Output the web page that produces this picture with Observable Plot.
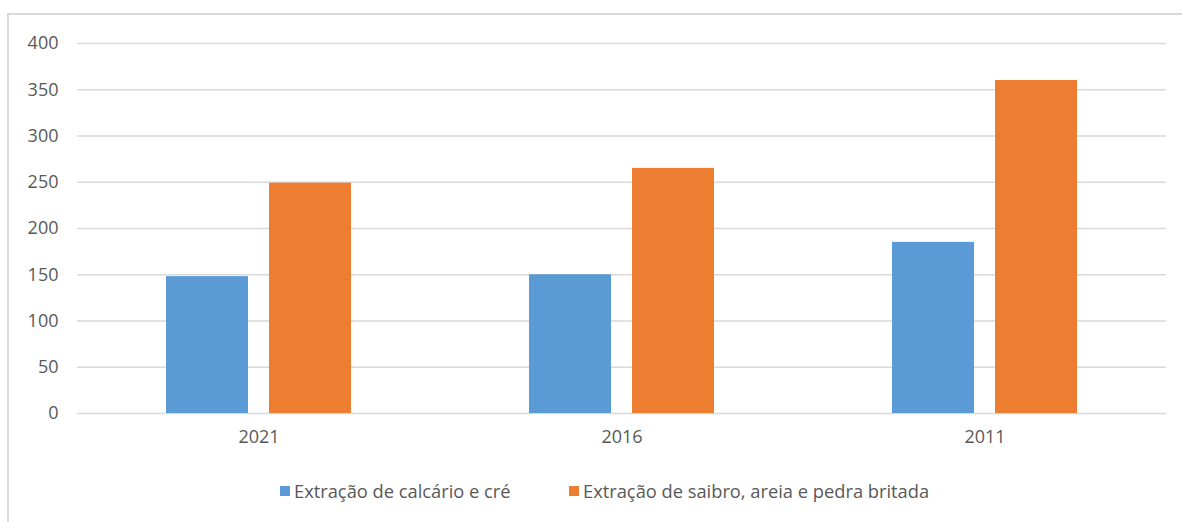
<!DOCTYPE html>
<html>
<head>
<meta charset="utf-8">
<script src="https://cdn.jsdelivr.net/npm/d3@7"></script>
<script src="https://cdn.jsdelivr.net/npm/@observablehq/plot@0.6"></script>
<style>
  html, body { margin: 0; padding: 0; background: #fff; overflow: hidden; }
  #wrap { position: relative; width: 1182px; height: 522px; overflow: hidden; font-family: "Open Sans", sans-serif; }
  #frame { position: absolute; left: 7px; top: 13px; width: 1300px; height: 700px; border: 2px solid #d9d9d9; box-sizing: border-box; }
  #chart { position: absolute; left: 0; top: 0; }
  .leg { position: absolute; top: 478px; display: flex; align-items: center; font-size: 18.3px; color: #595959; white-space: nowrap; }
  .sw { width: 10px; height: 10px; margin-right: 4px; }
</style>
</head>
<body>
<div id="wrap">
  <div id="frame"></div>
  <div id="chart"></div>
  <div id="legend"></div>
</div>
<script>
const years = ["2021", "2016", "2011"];
const series = ["Extração de calcário e cré", "Extração de saibro, areia e pedra britada"];
const calcario = [148, 150, 185];
const saibro = [249, 265, 360];
const yTicks = [0, 50, 100, 150, 200, 250, 300, 350, 400];
const colors = ["#5B9BD5", "#ED7D31"];

const data = years.flatMap((y, i) => [
  {year: y, serie: series[0], value: calcario[i]},
  {year: y, serie: series[1], value: saibro[i]}
]);

const chart = Plot.plot({
  width: 1182,
  height: 470,
  marginLeft: 77,
  marginRight: 16,
  marginTop: 43,
  marginBottom: 57,
  style: {fontFamily: "Open Sans, sans-serif", fontSize: "18px", color: "#595959", background: "transparent"},
  fx: {domain: years, padding: 0, label: null, axis: "bottom", tickSize: 0, tickPadding: 17},
  x: {domain: series, paddingInner: 0.204, paddingOuter: 0.862, axis: null},
  y: {domain: [0, 400], ticks: yTicks, tickSize: 0, tickPadding: 19, label: null},
  color: {domain: series, range: colors},
  marks: [
    Plot.gridY(yTicks, {stroke: "#d9d9d9", strokeOpacity: 1, strokeWidth: 1.5}),
    Plot.barY(data, {fx: "year", x: "serie", y: "value", fill: "serie"})
  ]
});
document.getElementById("chart").appendChild(chart);

const legend = document.getElementById("legend");
const lefts = [280, 569];
series.forEach((s, i) => {
  const item = document.createElement("div");
  item.className = "leg";
  item.style.left = lefts[i] + "px";
  const sw = document.createElement("div");
  sw.className = "sw";
  sw.style.background = colors[i];
  const t = document.createElement("span");
  t.textContent = s;
  item.appendChild(sw);
  item.appendChild(t);
  legend.appendChild(item);
});
</script>
</body>
</html>
